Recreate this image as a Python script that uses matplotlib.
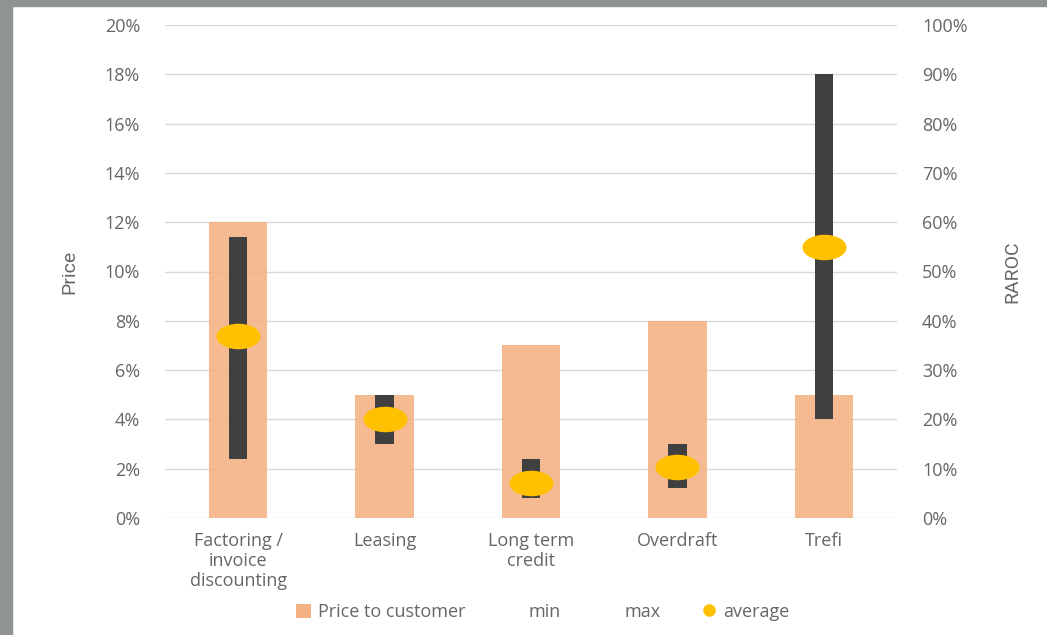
import numpy as np
import matplotlib
matplotlib.use("Agg")
import matplotlib.pyplot as plt
from matplotlib.path import Path
from matplotlib.patches import Rectangle, Patch
from matplotlib.lines import Line2D
from matplotlib.ticker import FuncFormatter, MultipleLocator

categories = ["Factoring /\ninvoice\ndiscounting", "Leasing", "Long term\ncredit", "Overdraft", "Trefi"]
price_to_customer = [12, 5, 7, 8, 5]          # % (left axis)
raroc_min = [12, 15, 4, 6, 20]                # % (right axis)
raroc_max = [57, 25, 12, 15, 90]              # % (right axis)
raroc_avg = [37, 20, 7, 10.4, 55]             # % (right axis)

plt.rcParams['font.family'] = ['Open Sans', 'DejaVu Sans']
TXT = '#666666'
FS = 13

fig = plt.figure(figsize=(10.47, 6.35), dpi=100)
fig.patch.set_facecolor('white')
# grey frame strips (screenshot border)
fig.add_artist(Rectangle((0, 0), 12/1047, 1, transform=fig.transFigure, color='#8f9394', zorder=0))
fig.add_artist(Rectangle((0, 1-6/635), 1, 6/635, transform=fig.transFigure, color='#8f9394', zorder=0))

ax = fig.add_axes([165/1047, 1-518/635, 732/1047, 493/635])
ax2 = ax.twinx()

x = np.arange(len(categories))
ax.bar(x, price_to_customer, width=0.4, color='#f4b183', alpha=0.88, zorder=2)
ax.set_ylim(0, 20)
ax.set_xlim(-0.5, len(categories)-0.5)
ax.yaxis.set_major_locator(MultipleLocator(2))
ax.yaxis.set_major_formatter(FuncFormatter(lambda v, p: f"{v:.0f}%"))
ax.grid(axis='y', color='#d9d9d9', linewidth=1.0, zorder=0)
ax.set_axisbelow(True)

ax2.set_ylim(0, 100)
ax2.yaxis.set_major_locator(MultipleLocator(10))
ax2.yaxis.set_major_formatter(FuncFormatter(lambda v, p: f"{v:.0f}%"))
heights = [mx - mn for mn, mx in zip(raroc_min, raroc_max)]
ax2.bar(x, heights, bottom=raroc_min, width=0.125, color='#404040', zorder=3)

circ = Path.unit_circle()
ell = Path(circ.vertices * np.array([1.0, 0.58]), circ.codes)
ax2.plot(x, raroc_avg, linestyle='none', marker=ell, markersize=31.7,
         markerfacecolor='#ffc000', markeredgecolor='none', zorder=4)

for a in (ax, ax2):
    for s in a.spines.values():
        s.set_visible(False)
    a.tick_params(axis='both', length=0, labelsize=FS, labelcolor=TXT)
ax.tick_params(axis='y', pad=18)
ax2.tick_params(axis='y', pad=18)
ax.tick_params(axis='x', pad=10)
ax.set_xticks(x)
ax.set_xticklabels(categories, fontsize=FS, color=TXT, linespacing=1.15)

lab_family = ['Liberation Sans Narrow', 'Roboto', 'DejaVu Sans']
ax.set_ylabel("Price", fontsize=14, color=TXT, family=lab_family)
ax.yaxis.set_label_coords(-0.119, 0.5)
ax2.set_ylabel("RAROC", fontsize=14, color=TXT, family=lab_family)
ax2.yaxis.set_label_coords(1.145, 0.5)

handles = [Patch(facecolor='#f4b183', edgecolor='none'),
           Patch(facecolor='none', edgecolor='none'),
           Patch(facecolor='none', edgecolor='none'),
           Line2D([], [], linestyle='none', marker='o', markersize=9, markerfacecolor='#ffc000', markeredgecolor='none')]
labels = ["Price to customer", "min", "max", "average"]
leg = fig.legend(handles, labels, loc='center', bbox_to_anchor=(543/1047, 1-612/635), ncol=4,
                 frameon=False, fontsize=FS, handlelength=0.8, handleheight=0.8, handletextpad=0.4,
                 columnspacing=2.3)
for t in leg.get_texts():
    t.set_color(TXT)

fig.savefig("out.png", dpi=100)
